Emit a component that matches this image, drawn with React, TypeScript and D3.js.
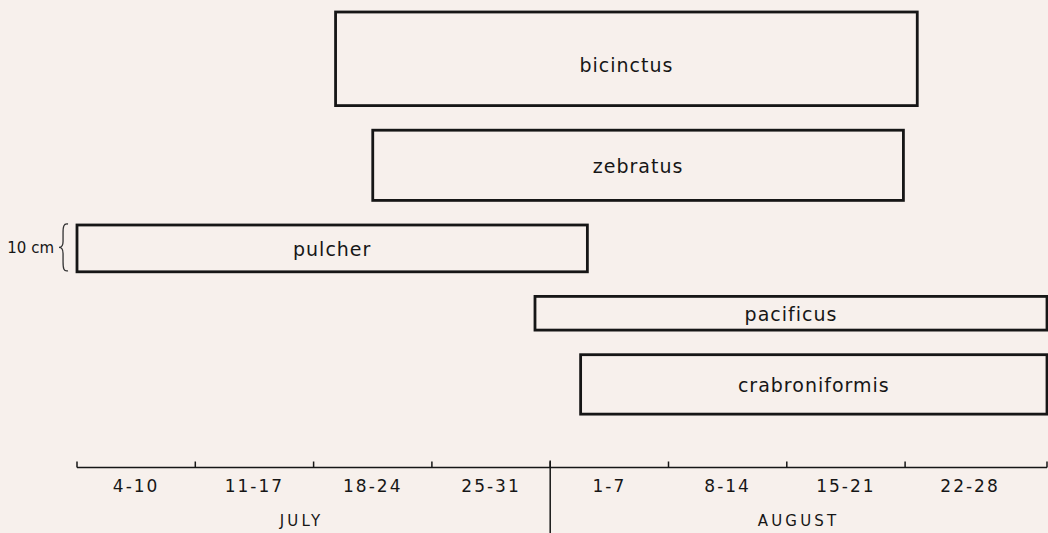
import React from "react";
import * as d3 from "d3";

// ---- data ----
const species = ["bicinctus", "zebratus", "pulcher", "pacificus", "crabroniformis"];
// days counted from July 4 (day 0) to end of Aug 28 (day 56)
const startDay = [15.3, 17.5, 0, 27.1, 29.8];
const endDay = [49.6, 48.9, 30.2, 56, 56];
// box height in cm
const sizeCm = [20, 15, 10, 7.2, 12.7];
const weekLabels = ["4-10", "11-17", "18-24", "25-31", "1-7", "8-14", "15-21", "22-28"];
const months = ["JULY", "AUGUST"];
const monthStartDay = [0, 28];
const monthEndDay = [28, 56];
const scaleBarCm = 10;
const scaleBarLabel = "10 cm";

const W = 1048;
const H = 533;
const FONT = "'DejaVu Sans', sans-serif";
const INK = "#161616";

export default function App() {
  const weekEdges = d3.range(0, 57, 7);
  const rangeArr = weekEdges.map((_, i) => (i < 8 ? 77 + i * 118.3 : 1047));
  const x = d3.scaleLinear().domain(weekEdges).range(rangeArr);

  const pxPerCm = 4.68;
  const h = d3.scaleLinear().domain([0, 1]).range([0, pxPerCm]);
  const gap = 24.6;
  const tops: number[] = [];
  let cur = 12;
  sizeCm.forEach((s) => {
    tops.push(cur);
    cur += h(s) + gap;
  });

  const axisY = 467.5;
  const pIdx = species.indexOf("pulcher");
  const braceTop = tops[pIdx] - 1;
  const braceBot = tops[pIdx] + h(scaleBarCm) - 1;
  const braceMid = (braceTop + braceBot) / 2;
  const bx = 68; // brace right x
  const bd = 9; // brace depth
  const m = bx - bd * 0.55;
  const brace = `M${bx},${braceTop} C${bx - bd * 0.5},${braceTop - 1} ${m},${braceTop + 3} ${m},${braceTop + 9}
    L${m},${braceMid - 6} C${m},${braceMid - 1.5} ${bx - bd * 0.8},${braceMid} ${bx - bd},${braceMid}
    C${bx - bd * 0.8},${braceMid} ${m},${braceMid + 1.5} ${m},${braceMid + 6}
    L${m},${braceBot - 9} C${m},${braceBot - 3} ${bx - bd * 0.5},${braceBot + 1} ${bx},${braceBot}`;

  return (
    <svg
      width={W}
      height={H}
      style={{ position: "absolute", left: 0, top: 0 }}
      fontFamily={FONT}
    >
      <rect x={0} y={0} width={W} height={H} fill="#f7f0ec" />
      {/* boxes */}
      {species.map((s, i) => {
        const x0 = x(startDay[i]);
        const x1 = x(endDay[i]);
        const y0 = tops[i];
        const hh = h(sizeCm[i]);
        return (
          <g key={s}>
            <rect
              x={x0}
              y={y0}
              width={x1 - x0}
              height={hh}
              fill="none"
              stroke={INK}
              strokeWidth={2.8}
            />
            <text
              x={(x0 + x1) / 2}
              y={y0 + hh / 2 + (i === 0 ? 8 : 2)}
              textAnchor="middle"
              dominantBaseline="middle"
              fontSize={19}
              letterSpacing={1}
              fill={INK}
            >
              {s}
            </text>
          </g>
        );
      })}
      {/* scale brace */}
      <path d={brace} fill="none" stroke="#333" strokeWidth={1.3} />
      <text
        x={bx - bd - 5}
        y={braceMid + 1}
        textAnchor="end"
        dominantBaseline="middle"
        fontSize={15}
        fill={INK}
      >
        {scaleBarLabel}
      </text>
      {/* axis */}
      <line x1={x(0)} x2={x(56)} y1={axisY} y2={axisY} stroke={INK} strokeWidth={1.5} />
      {weekEdges.map((d) => (
        <line key={d} x1={x(d)} x2={x(d)} y1={axisY} y2={axisY - 6} stroke={INK} strokeWidth={1.5} />
      ))}
      {weekLabels.map((l, i) => (
        <text
          key={l}
          x={(x(i * 7) + x(i * 7 + 7)) / 2 - (i === 7 ? 6 : 0)}
          y={487}
          textAnchor="middle"
          dominantBaseline="middle"
          fontSize={17}
          letterSpacing={2}
          fill={INK}
        >
          {l}
        </text>
      ))}
      {/* month divider */}
      <line x1={x(28)} x2={x(28)} y1={axisY - 7} y2={H} stroke={INK} strokeWidth={1.5} />
      {months.map((mo, i) => (
        <text
          key={mo}
          x={(x(monthStartDay[i]) + x(monthEndDay[i])) / 2 - (i === 0 ? 12 : 0)}
          y={521}
          textAnchor="middle"
          dominantBaseline="middle"
          fontSize={15}
          letterSpacing={3.2}
          fill={INK}
        >
          {mo}
        </text>
      ))}
    </svg>
  );
}
